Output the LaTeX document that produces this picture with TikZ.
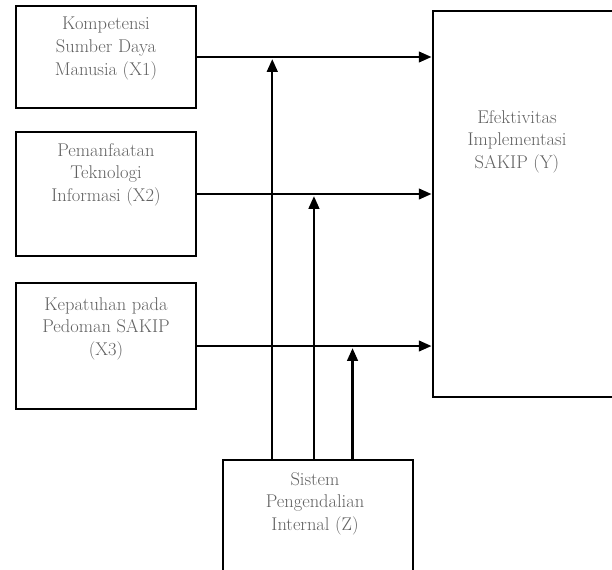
\documentclass[tikz,border=0pt]{standalone}
\usepackage{tikz}
\usetikzlibrary{arrows.meta,calc}

\begin{document}
\begin{tikzpicture}[
    box/.style={draw=black, line width=2.8pt, inner sep=0pt},
    lbl/.style={align=center, text=black!62, font=\fontsize{17.5}{21.5}\selectfont},
    arr/.style={line width=2.2pt, -{Triangle[length=12pt,width=10pt]}}
]
    \useasboundingbox (0,0) rectangle (20.4,18.967);

    % Independent variables
    \node[box, minimum width=6cm, minimum height=3.4cm] (x1) at (3.533,17.067) {};
    \node[box, minimum width=6cm, minimum height=4.133cm] (x2) at (3.533,12.5) {};
    \node[box, minimum width=6cm, minimum height=4.2cm] (x3) at (3.533,7.433) {};

    \node[lbl] (x1t) at ([yshift=-1.47cm]x1.north) {Kompetensi\\Sumber Daya\\Manusia (X1)};
    \node[lbl] (x2t) at ([yshift=-1.47cm]x2.north) {Pemanfaatan\\Teknologi\\Informasi (X2)};
    \node[lbl] (x3t) at ([yshift=-1.57cm]x3.north) {Kepatuhan pada\\Pedoman SAKIP\\(X3)};

    % Dependent variable (runs past the right edge)
    \node[box, minimum width=6.2cm, minimum height=12.867cm] (y) at (17.533,12.167) {};
    \node[lbl] (yt) at ([xshift=-0.3cm, yshift=-4.4cm]y.north) {Efektivitas\\Implementasi\\SAKIP (Y)};

    % Moderating variable (runs past the bottom edge)
    \node[box, minimum width=6.333cm, minimum height=3.933cm] (z) at (10.6,1.667) {};
    \node[lbl] (zt) at ([xshift=-0.1cm, yshift=-1.5cm]z.north) {Sistem\\Pengendalian\\Internal (Z)};

    % Direct effects
    \draw[arr] (x1.east) -- (x1.east -| y.west);
    \draw[arr] (x2.east) -- (x2.east -| y.west);
    \draw[arr] (x3.east) -- (x3.east -| y.west);

    % Moderation
    \coordinate (p1) at ($(z.north west)!0.263!(z.north east)$);
    \coordinate (p2) at ($(z.north west)!0.479!(z.north east)$);
    \coordinate (p3) at ($(z.north west)!0.679!(z.north east)$);
    \draw[arr] (p1) -- ([yshift=-2pt]p1 |- x1.east);
    \draw[arr] (p2) -- ([yshift=-2pt]p2 |- x2.east);
    \draw[arr] (p3) -- ([yshift=-2pt]p3 |- x3.east);
\end{tikzpicture}
\end{document}
